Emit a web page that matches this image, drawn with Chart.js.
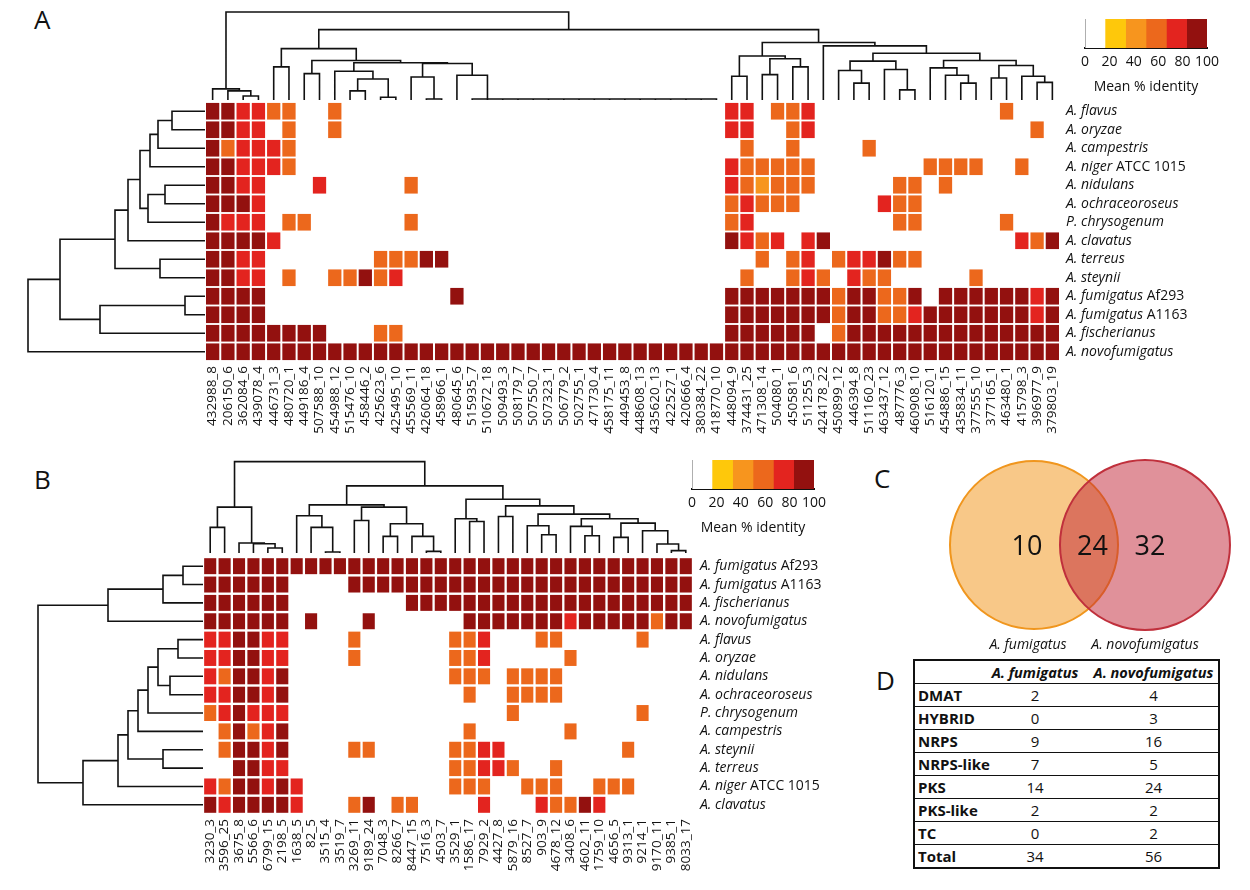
<!DOCTYPE html>
<html>
<head>
<meta charset="utf-8">
<script src="https://cdn.jsdelivr.net/npm/chart.js@4.4.1/dist/chart.umd.min.js"></script>
<style>
  body { margin: 0; width: 1250px; height: 890px; position: relative; overflow: hidden; background: #fff; font-family: "Open Sans", sans-serif; color: #111; }
  canvas { position: absolute; }
  .panel { position: absolute; font-size: 26px; line-height: 1; }
  #bgcTable { position: absolute; left: 913px; top: 659px; width: 305px; border-collapse: collapse; table-layout: fixed; border: 2px solid #111; font-size: 15px; }
  #bgcTable td, #bgcTable th { height: 22px; padding: 0; border-bottom: 1.5px solid #111; white-space: nowrap; text-align: center; }
  #bgcTable th { font-style: italic; font-weight: bold; font-size: 14.5px; }
  #bgcTable td.lab { text-align: left; font-weight: bold; padding-left: 3px; overflow: visible; }
</style>
</head>
<body>
<div class="panel" style="left:34px;top:6px">A</div>
<div class="panel" style="left:34px;top:466px">B</div>
<div class="panel" style="left:874px;top:465px">C</div>
<div class="panel" style="left:876px;top:667px">D</div>

<canvas id="dendTopA" width="855" height="92" style="left:205px;top:8px"></canvas>
<canvas id="dendLeftA" width="180" height="259" style="left:25px;top:102px"></canvas>
<canvas id="heatA" width="1050" height="344" style="left:195px;top:102px"></canvas>
<canvas id="legendA" width="162" height="76" style="left:1065px;top:19px"></canvas>

<canvas id="dendTopB" width="490" height="98" style="left:203px;top:455px"></canvas>
<canvas id="dendLeftB" width="170" height="257" style="left:33px;top:557px"></canvas>
<canvas id="heatB" width="650" height="325" style="left:193px;top:557px"></canvas>
<canvas id="legendB" width="162" height="76" style="left:672px;top:460px"></canvas>

<canvas id="venn" width="310" height="200" style="left:930px;top:455px"></canvas>
<table id="bgcTable"></table>

<script>
// ---- data ----
const speciesA = ['A. flavus', 'A. oryzae', 'A. campestris', 'A. niger ATCC 1015', 'A. nidulans',
  'A. ochraceoroseus', 'P. chrysogenum', 'A. clavatus', 'A. terreus', 'A. steynii',
  'A. fumigatus Af293', 'A. fumigatus A1163', 'A. fischerianus', 'A. novofumigatus'];

const clustersA = ['432988_8', '206150_6', '362084_6', '439078_4', '446731_3', '480720_1', '449186_4',
  '507588_10', '454988_12', '515476_10', '458446_2', '425623_6', '425495_10', '455569_11', '426064_18',
  '458966_1', '480645_6', '515935_7', '510672_18', '509493_3', '508179_7', '507550_7', '507323_1',
  '506779_2', '502755_1', '471730_4', '458175_11', '449453_8', '448608_13', '435620_13', '422527_1',
  '420666_4', '380384_22', '418770_10', '448094_9', '374431_25', '471308_14', '504080_1', '450581_6',
  '511255_3', '424178_22', '450899_12', '446394_8', '511160_23', '463437_12', '487776_3', '460908_10',
  '516120_1', '454886_15', '435834_11', '377555_10', '377165_1', '463480_1', '415798_3', '396977_9',
  '379803_19'];

// one character per cluster: . absent, Y 17-33, L 33-50, O 50-67, R 67-83, D 83-100 % identity
const identityA = [
  'DDRROO..O. .......... .......... ....RR.OOR .......... ..O...',
  'DDRR.O..O. .......... .......... ....RR..OR .......... ....O.',
  'DORRRO.... .......... .......... .....O..O. ...O...... ......',
  'DDRRRO.... .......... .......... ....ROOOOO .......OOO O..O..',
  'DDRR...R.. ...O...... .......... ....ROLOOO .....OO.O. ......',
  'DDDR...... .......... .......... ....OROOO. ....ROO... ......',
  'DRRR.OO... ...O...... .......... ....OR.... .....OO... ..O...',
  'DDDDR..... .......... .......... ....DROR.R D......... ...ROD',
  'DDRR...... .OOODD.... .......... ......O.OR .ORRDOO... ......',
  'DDRR.O..OO DOR....... .......... .....O..OR O.ROO..... O.....',
  'DDDD...... ......D... .......... ....DDDDDD DODDOOD.DD DDDDRD',
  'DDDD...... .......... .......... ....DDDDDD DODDOORDDD DDDDRD',
  'DDDDDDDD.. .OO....... .......... ....DDDDDD .ODDDDDDDD DDDDDD',
  'DDDDDDDDDD DDDDDDDDDD DDDDDDDDDD DDDDDDDDDD DDDDDDDDDD DDDDDD'
];

const speciesB = ['A. fumigatus Af293', 'A. fumigatus A1163', 'A. fischerianus', 'A. novofumigatus',
  'A. flavus', 'A. oryzae', 'A. nidulans', 'A. ochraceoroseus', 'P. chrysogenum', 'A. campestris',
  'A. steynii', 'A. terreus', 'A. niger ATCC 1015', 'A. clavatus'];

const clustersB = ['3230_3', '3596_25', '3675_8', '5566_6', '6799_15', '2198_5', '1638_5', '82_5',
  '3515_4', '3519_7', '3269_11', '9189_24', '7048_3', '8266_7', '8447_15', '7516_3', '4503_7', '3529_1',
  '1586_17', '7929_2', '4427_8', '5879_16', '8527_7', '903_9', '4678_12', '3408_6', '4602_11', '1759_10',
  '4656_5', '9313_1', '9214_1', '9170_11', '9385_1', '8033_17'];

const identityB = [
  'DDDDDDDDDD DDDDDDDDDD DDDDDDDDDD DDDD',
  'DDDDDD.... DDDDDDDDDD DDDDDDDDDD DDDD',
  'DDDDDD.... ....DDDDDD DDDDDDDDDD DDDD',
  'DDDDDD.D.. .D......DD DDDDDRDDDD DODD',
  'RRDDRR.... O......OOR ...OO..... O...',
  'RRDDRR.... O......OOR .....O.... ....',
  'RODDRD.... .......OOO .OOOO..... ....',
  'RRDDRD.... ........O. .OOOO..... ....',
  'ORDRRR.... .......... .O........ O...',
  '.ODORD.... ........O. .....O.... ....',
  '.ODDRD.... OO.....OOR R........O ....',
  '..DDRR.... .......OOR RO..O..... ....',
  'RODDRDR... .......OOO ..OOO..OOO ....',
  'DRDDDDR... OD.OO....R ...ROODR.. ....'
];

const identityBins = [0, 16.7, 33.3, 50, 66.7, 83.3, 100];
const binCodes = ['.', 'Y', 'L', 'O', 'R', 'D'];
const binColors = ['#ffffff', '#fec80b', '#f7951e', '#ec681c', '#e3241f', '#93110f'];
const identityTicks = [0, 20, 40, 60, 80, 100];

// dendrograms: [height, left, right], leaves are 1-based positions
const chainA = [3, 18, [3, 19, [3, 20, [3, 21, [3, 22, [3, 23, [3, 24, [3, 25, [3, 26, [3, 27,
  [3, 28, [3, 29, [3, 30, [3, 31, [3, 32, [3, 33, 34]]]]]]]]]]]]]]]];
const treeTopA = [260,
  [33, 1, [27, 2, [12, 3, 4]]],
  [208,
    [152, [98, 5, 6],
      [117, [78, 7, 8],
        [110, [85, 9, [62, [27, 10, 11], [8, 12, 13]]],
          [108, [68, 14, [3, 15, 16]], [73, 17, chainA]]]]],
    [170,
      [130, [70, 35, 36], [122, [75, 37, 38], [98, 39, 40]]],
      [160, 41,
        [138,
          [115, [87, 42, [50, 43, 44]], [90, 45, [30, 46, 47]]],
          [117, [95, 48, [73, 49, [50, 50, 51]]], [102, [65, 52, 53], [70, 54, [52, 55, 56]]]]]]]]];
const treeLeftA = [177,
  [145,
    [90, [77, [65, [55, [47, [33, 1, 2], 3], 4], [57, [40, 5, 6], 7]], 8], [45, 9, 10]],
    [105, [20, 11, 12], 13]],
  14];
const treeTopB = [275,
  [138, [77, 1, 2], [30, 3, [28, 4, [15, 5, 6]]]],
  [202,
    [145, [112, 7, [77, 8, [3, 9, 10]]],
      [138, [98, 11, 12], [88, [50, 13, 14], [50, 15, [5, 16, 17]]]]],
    [162, [103, 18, [95, 19, 20]],
      [142, [110, 21, 22],
        [117, [82, 23, [55, 24, 25]],
          [103, [80, 26, [52, 27, 28]],
            [90, [47, 29, 30], [67, 31, [27, 32, [7, 33, 34]]]]]]]]]];
const treeLeftB = [165,
  [95, [40, [20, 1, 2], 3], 4],
  [120, [85, [75, [65, [55, [45, [25, 5, 6], [33, 7, 8]], 9], 10], [40, 11, 12]], 13], 14]];

const vennSets = ['A. fumigatus', 'A. novofumigatus'];
const vennCounts = [10, 24, 32];

const bgcClasses = ['DMAT', 'HYBRID', 'NRPS', 'NRPS-like', 'PKS', 'PKS-like', 'TC', 'Total'];
const countsFumigatus = [2, 0, 9, 7, 14, 2, 0, 34];
const countsNovofumigatus = [4, 3, 16, 5, 24, 2, 2, 56];

// ---- charts ----
Chart.defaults.font.family = '"Open Sans", sans-serif';
Chart.defaults.color = '#111';
Chart.defaults.animation = false;
Chart.defaults.events = [];
Chart.defaults.plugins.legend.display = false;
Chart.defaults.plugins.tooltip.enabled = false;

const binColor = code => binColors[binCodes.indexOf(code)];

function dendroPoints(tree, sideways) {
  const pts = [];
  function walk(node) {
    if (typeof node === 'number') return { pos: node, h: 0 };
    const [h, a, b] = node;
    const l = walk(a), r = walk(b);
    [[l.pos, l.h], [l.pos, h], [r.pos, h], [r.pos, r.h]].forEach(([p, v]) => {
      pts.push(sideways ? { x: v, y: p } : { x: p, y: v });
    });
    pts.push({ x: NaN, y: NaN });
    return { pos: (l.pos + r.pos) / 2, h: h };
  }
  walk(tree);
  return pts;
}

function dendroChart(id, tree, leaves, sideways, hMax) {
  const leafAxis = { type: 'linear', display: false, min: 0.5, max: leaves + 0.5, reverse: sideways };
  const hAxis = { type: 'linear', display: false, min: 0, max: hMax, reverse: sideways };
  new Chart(document.getElementById(id), {
    type: 'scatter',
    data: {
      datasets: [{
        data: dendroPoints(tree, sideways),
        showLine: true, spanGaps: false, pointRadius: 0,
        borderColor: '#111', borderWidth: 1.6
      }]
    },
    options: {
      responsive: false,
      layout: { padding: 0 },
      scales: sideways ? { x: hAxis, y: leafAxis } : { x: leafAxis, y: hAxis }
    }
  });
}

const rowLabels = {
  id: 'rowLabels',
  afterDraw(chart, args, opts) {
    const { ctx, chartArea, scales } = chart;
    ctx.save();
    ctx.fillStyle = '#111';
    ctx.textBaseline = 'middle';
    opts.names.forEach((name, i) => {
      const words = name.split(' ');
      const ital = words.slice(0, 2).join(' ');
      const rest = words.slice(2).join(' ');
      const y = scales.y.getPixelForValue(i);
      let x = chartArea.right + opts.gap;
      ctx.font = 'italic 14px "Open Sans"';
      ctx.fillText(ital, x, y);
      if (rest) {
        x += ctx.measureText(ital + ' ').width;
        ctx.font = '14px "Open Sans"';
        ctx.fillText(rest, x, y);
      }
    });
    ctx.restore();
  }
};

function heatmapChart(id, clusters, species, codes, o) {
  const rows = codes.map(r => r.replace(/ /g, ''));
  new Chart(document.getElementById(id), {
    type: 'bar',
    data: {
      labels: clusters,
      datasets: rows.map((row, i) => ({
        data: [...row].map(c => c === '.' ? null : [i - o.half, i + o.half]),
        backgroundColor: [...row].map(binColor),
        borderWidth: 0,
        barPercentage: o.bar,
        categoryPercentage: 1,
        grouped: false
      }))
    },
    options: {
      responsive: false,
      layout: { padding: { left: 10, right: o.right, top: 0, bottom: 0 } },
      scales: {
        x: {
          type: 'category',
          grid: { display: false, drawTicks: false },
          border: { display: false },
          ticks: { autoSkip: false, minRotation: 90, maxRotation: 90, padding: 5, color: '#111', font: { size: 13.5 } },
          afterFit: s => { s.height = o.axisH; }
        },
        y: { type: 'linear', display: false, min: -0.5, max: rows.length - 0.5, reverse: true }
      },
      plugins: { rowLabels: { names: species, gap: o.gap } }
    },
    plugins: [rowLabels]
  });
}

function legendChart(id) {
  new Chart(document.getElementById(id), {
    type: 'bar',
    data: {
      labels: [''],
      datasets: binColors.map((col, i) => ({
        data: [[identityBins[i], identityBins[i + 1]]],
        backgroundColor: col,
        borderColor: '#888',
        borderWidth: i === 0 ? { left: 1, right: 0, top: 0, bottom: 0 } : 0,
        borderSkipped: false,
        barPercentage: 1,
        categoryPercentage: 1,
        grouped: false
      }))
    },
    options: {
      indexAxis: 'y',
      responsive: false,
      layout: { padding: { left: 20, right: 20, top: 0, bottom: 0 } },
      scales: {
        x: {
          type: 'linear', min: 0, max: 100,
          afterBuildTicks: s => { s.ticks = identityTicks.map(v => ({ value: v })); },
          grid: { display: false, drawTicks: false },
          border: { display: true, color: '#111', width: 2 },
          ticks: { autoSkip: false, maxRotation: 0, padding: 6, font: { size: 14 }, color: '#111' },
          title: { display: true, text: 'Mean % identity', font: { size: 14 }, color: '#111', padding: 0 },
          afterFit: s => { s.height = 47; }
        },
        y: { display: false }
      }
    }
  });
}

dendroChart('dendTopA', treeTopA, clustersA.length, false, 272);
dendroChart('dendLeftA', treeLeftA, speciesA.length, true, 180);
heatmapChart('heatA', clustersA, speciesA, identityA, { half: 0.45, bar: 0.87, right: 185, axisH: 85, gap: 6 });
legendChart('legendA');

dendroChart('dendTopB', treeTopB, clustersB.length, false, 295);
dendroChart('dendLeftB', treeLeftB, speciesB.length, true, 170);
heatmapChart('heatB', clustersB, speciesB, identityB, { half: 0.435, bar: 0.84, right: 150, axisH: 68, gap: 7 });
legendChart('legendB');

// venn diagram
const vennText = {
  id: 'vennText',
  afterDraw(chart) {
    const { ctx, scales: { x, y } } = chart;
    const cy = y.getPixelForValue(0);
    const xl = x.getPixelForValue(0), xr = x.getPixelForValue(1);
    ctx.save();
    ctx.fillStyle = '#111';
    ctx.textAlign = 'center';
    ctx.textBaseline = 'middle';
    ctx.font = '27px "Open Sans"';
    [xl - 7, (xl + xr) / 2 + 3, xr + 5].forEach((px, i) => ctx.fillText(String(vennCounts[i]), px, cy + 2));
    ctx.font = 'italic 14px "Open Sans"';
    ctx.fillText(vennSets[0], xl - 6, cy + 100);
    ctx.fillText(vennSets[1], xr, cy + 100);
    ctx.restore();
  }
};

new Chart(document.getElementById('venn'), {
  type: 'bubble',
  data: {
    datasets: [
      { label: vennSets[0], data: [{ x: 0, y: 0 }], order: 1, radius: 84, clip: false, backgroundColor: 'rgba(241,146,17,0.5)', borderColor: '#f0961e', borderWidth: 2 },
      { label: vennSets[1], data: [{ x: 1, y: 0 }], order: 0, radius: 85, clip: false, backgroundColor: 'rgba(193,35,53,0.5)', borderColor: '#c0303c', borderWidth: 2 }
    ]
  },
  options: {
    responsive: false,
    layout: { padding: 0, autoPadding: false },
    scales: {
      x: { type: 'linear', display: false, min: -0.937, max: 1.856 },
      y: { type: 'linear', display: false, min: -1.1, max: 0.9 }
    }
  },
  plugins: [vennText]
});

// table D
const table = document.getElementById('bgcTable');
table.innerHTML =
  '<colgroup><col style="width:67px"><col style="width:108px"><col style="width:130px"></colgroup>' +
  '<tr><th></th><th>A. fumigatus</th><th>A. novofumigatus</th></tr>' +
  bgcClasses.map((c, i) =>
    '<tr><td class="lab">' + c + '</td><td>' + countsFumigatus[i] + '</td><td>' + countsNovofumigatus[i] + '</td></tr>'
  ).join('');
</script>
</body>
</html>
